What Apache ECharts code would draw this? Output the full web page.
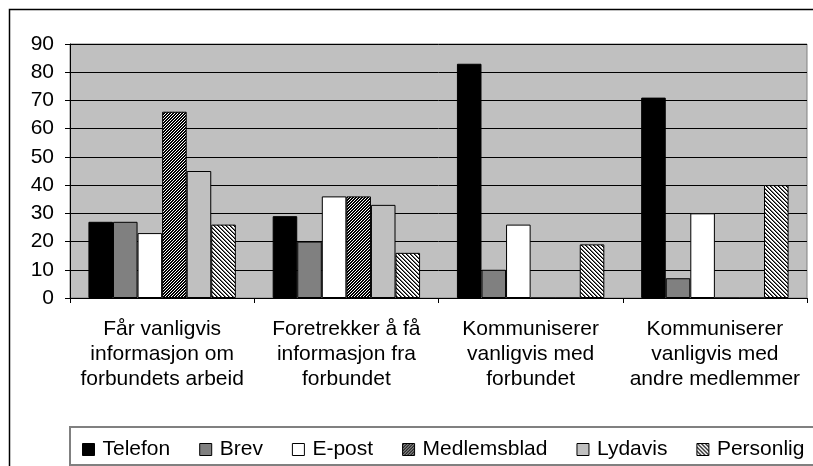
<!DOCTYPE html>
<html lang="no">
<head>
<meta charset="UTF-8">
<title>Kommunikasjon</title>
<style>
  html, body { margin: 0; padding: 0; background: #fff; }
  #main { width: 813px; height: 466px; }
</style>
</head>
<body>
<div id="main"></div>
<script src="https://cdn.jsdelivr.net/npm/echarts@6/dist/echarts.min.js"></script>
<script>
  // data
  var categories = [
    'Får vanligvis\ninformasjon om\nforbundets arbeid',
    'Foretrekker å få\ninformasjon fra\nforbundet',
    'Kommuniserer\nvanligvis med\nforbundet',
    'Kommuniserer\nvanligvis med\nandre medlemmer'
  ];
  var telefon = [27, 29, 83, 71];
  var brev = [27, 20, 10, 7];
  var epost = [23, 36, 26, 30];
  var medlemsblad = [66, 36, 0, 0];
  var lydavis = [45, 33, 0, 0];
  var personlig = [26, 16, 19, 40];
  var yTicks = [0, 90, 10]; // min, max, step

  var font = 'Liberation Sans, Arial, sans-serif';

  // hatch patterns as canvas
  function hatch(size, fn) {
    var c = document.createElement('canvas');
    c.width = size; c.height = size;
    var ctx = c.getContext('2d');
    var img = ctx.createImageData(size, size);
    for (var y = 0; y < size; y++) {
      for (var x = 0; x < size; x++) {
        var v = fn(x, y);
        var i = (y * size + x) * 4;
        img.data[i] = img.data[i + 1] = img.data[i + 2] = v;
        img.data[i + 3] = 255;
      }
    }
    ctx.putImageData(img, 0, 0);
    return c;
  }
  var hatchUp = hatch(6, function (x, y) {
    return ((x + y) % 3) < 2 ? 0 : 255;
  });
  var hatchDown = hatch(8, function (x, y) {
    var k = ((x - y) % 4 + 4) % 4;
    return k === 0 ? 0 : (k === 1 ? 110 : 255);
  });

  function bar(name, data, fill) {
    return {
      name: name,
      type: 'bar',
      data: data,
      barGap: 0,
      barCategoryGap: '20%',
      itemStyle: { color: fill, borderColor: '#000', borderWidth: 1 },
      emphasis: { disabled: true }
    };
  }

  var chart = echarts.init(document.getElementById('main'), null, { renderer: 'canvas' });
  var option = {
    animation: false,
    backgroundColor: '#fff',
    textStyle: { fontFamily: font },
    graphic: [
      { type: 'rect', shape: { x: 9.5, y: 9.5, width: 820, height: 500 },
        style: { fill: 'none', stroke: '#000', lineWidth: 1.5 }, z: -1 },
      { type: 'rect', shape: { x: 70, y: 427, width: 760, height: 38 },
        style: { fill: '#fff', stroke: '#808080', lineWidth: 2 }, z: -1 }
    ],
    grid: {
      left: 70, right: 6, top: 44, bottom: 168,
      show: true, backgroundColor: '#c0c0c0', borderColor: '#808080', borderWidth: 1
    },
    legend: {
      left: 77, top: 434,
      itemWidth: 12, itemHeight: 12, itemGap: 29,
      icon: 'rect',
      textStyle: { fontSize: 21, color: '#000', fontFamily: font, padding: [0, 0, 0, 3] },
      itemStyle: { borderColor: '#000', borderWidth: 1 },
      data: ['Telefon', 'Brev', 'E-post', 'Medlemsblad', 'Lydavis', 'Personlig']
    },
    xAxis: {
      type: 'category',
      data: categories,
      axisLine: { lineStyle: { color: '#000', width: 1 } },
      axisTick: { show: true, length: 5, inside: false, alignWithLabel: false, lineStyle: { color: '#000' } },
      axisLabel: { fontSize: 21, color: '#000', lineHeight: 25, margin: 19, interval: 0, fontFamily: font }
    },
    yAxis: {
      type: 'value',
      min: yTicks[0], max: yTicks[1], interval: yTicks[2],
      axisLine: { show: true, lineStyle: { color: '#000' } },
      axisTick: { show: true, length: 5, lineStyle: { color: '#000' } },
      axisLabel: { fontSize: 21, color: '#000', margin: 16, fontFamily: font },
      splitLine: { lineStyle: { color: '#000', width: 1 } }
    },
    series: [
      bar('Telefon', telefon, '#000'),
      bar('Brev', brev, '#808080'),
      bar('E-post', epost, '#fff'),
      bar('Medlemsblad', medlemsblad, { image: hatchUp, repeat: 'repeat' }),
      bar('Lydavis', lydavis, '#c0c0c0'),
      bar('Personlig', personlig, { image: hatchDown, repeat: 'repeat' })
    ]
  };
  chart.setOption(option);
</script>
</body>
</html>
